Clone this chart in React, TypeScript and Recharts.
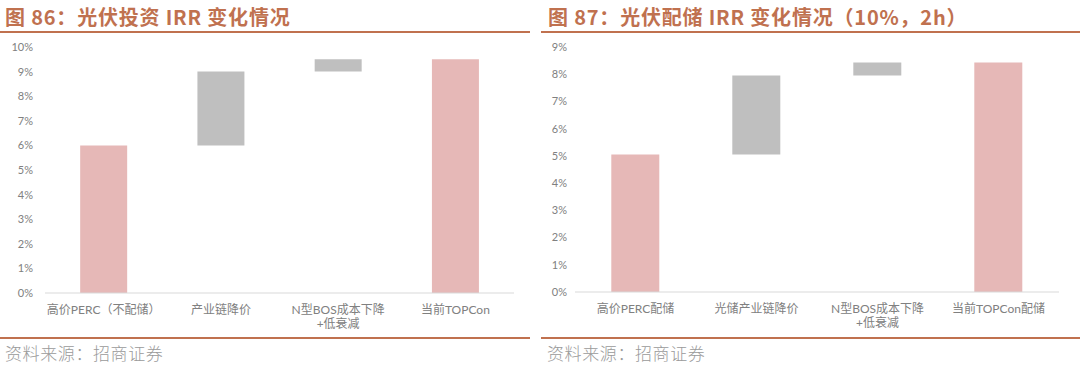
import React from "react";
import { BarChart, Bar, XAxis, YAxis, Cell } from "recharts";

const leftTitle = "图 86：光伏投资 IRR 变化情况";
const rightTitle = "图 87：光伏配储 IRR 变化情况（10%，2h）";
const sourceText = "资料来源：招商证券";

const leftCategories = ["高价PERC（不配储）", "产业链降价", "N型BOS成本下降\n+低衰减", "当前TOPCon"];
const leftStart = [0, 6.0, 9.0, 0];
const leftEnd = [6.0, 9.0, 9.5, 9.5];
const leftTicks = [0, 1, 2, 3, 4, 5, 6, 7, 8, 9, 10];

const rightCategories = ["高价PERC配储", "光储产业链降价", "N型BOS成本下降\n+低衰减", "当前TOPCon配储"];
const rightStart = [0, 5.05, 7.95, 0];
const rightEnd = [5.05, 7.95, 8.43, 8.43];
const rightTicks = [0, 1, 2, 3, 4, 5, 6, 7, 8, 9];

const barKinds = ["total", "step", "step", "total"];

const PINK = "#E6B8B7";
const GRAY = "#BFBFBF";
const ACCENT = "#C0714F";
const FONT = "Lato, 'Noto Sans CJK SC', sans-serif";

const buildData = (cats: string[], s: number[], e: number[]) =>
  cats.map((c, i) => ({ name: c, range: [s[i], e[i]], kind: barKinds[i] }));

const MultiTick = (props: any) => {
  const { x, y, payload } = props;
  const lines = String(payload.value).split("\n");
  return (
    <g transform={`translate(${x},${y})`}>
      {lines.map((l: string, i: number) => (
        <text key={i} x={0} y={i * 14} dy={13} textAnchor="middle" fill="#808080" fontSize={12} fontFamily={FONT}>
          {l}
        </text>
      ))}
    </g>
  );
};

const Panel = (props: {
  cats: string[];
  s: number[];
  e: number[];
  ticks: number[];
  max: number;
  yWidth: number;
  tickMargin: number;
  margin: any;
}) => {
  const data = buildData(props.cats, props.s, props.e);
  return (
    <BarChart width={540} height={368} data={data} margin={props.margin} barCategoryGap="30%">
      <XAxis
        dataKey="name"
        height={40}
        interval={0}
        tickLine={false}
        axisLine={{ stroke: "#D9D9D9" }}
        tick={<MultiTick />}
      />
      <YAxis
        width={props.yWidth}
        domain={[0, props.max]}
        ticks={props.ticks}
        interval={0}
        tickLine={false}
        axisLine={false}
        tickSize={0}
        tickMargin={props.tickMargin}
        tickFormatter={(v: number) => `${v}%`}
        tick={{ fill: "#808080", fontSize: 11, fontFamily: FONT }}
      />
      <Bar dataKey="range" isAnimationActive={false}>
        {data.map((d, i) => (
          <Cell key={i} fill={d.kind === "total" ? PINK : GRAY} />
        ))}
      </Bar>
    </BarChart>
  );
};

export default function App() {
  const titleStyle: React.CSSProperties = {
    position: "absolute",
    top: 4,
    fontSize: 20,
    fontWeight: 700,
    letterSpacing: 0.8,
    color: ACCENT,
    fontFamily: "'Noto Sans CJK SC', sans-serif",
    whiteSpace: "nowrap",
    lineHeight: "26px",
  };
  const srcStyle: React.CSSProperties = {
    position: "absolute",
    top: 341,
    fontSize: 17,
    letterSpacing: 0.6,
    color: "#9a9a9a",
    fontFamily: "'Noto Sans CJK SC', sans-serif",
    fontWeight: 300,
    whiteSpace: "nowrap",
    lineHeight: "24px",
  };
  const lineStyle = (left: number, width: number, top: number): React.CSSProperties => ({
    position: "absolute",
    left,
    width,
    top,
    height: 2,
    background: ACCENT,
  });
  return (
    <div style={{ position: "fixed", left: 0, top: 0, width: 1080, height: 368, background: "#fff", overflow: "hidden" }}>
      <div style={{ ...titleStyle, left: 5 }}>{leftTitle}</div>
      <div style={{ ...titleStyle, left: 548 }}>{rightTitle}</div>
      <div style={lineStyle(0, 530, 31)} />
      <div style={lineStyle(541, 539, 31)} />
      <div style={{ position: "absolute", left: 0, top: 0 }}>
        <Panel
          cats={leftCategories}
          s={leftStart}
          e={leftEnd}
          ticks={leftTicks}
          max={10}
          yWidth={45}
          tickMargin={12}
          margin={{ top: 47, right: 26, bottom: 35, left: 0 }}
        />
      </div>
      <div style={{ position: "absolute", left: 540, top: 0 }}>
        <Panel
          cats={rightCategories}
          s={rightStart}
          e={rightEnd}
          ticks={rightTicks}
          max={9}
          yWidth={35}
          tickMargin={8}
          margin={{ top: 47, right: 21, bottom: 36, left: 0 }}
        />
      </div>
      <div style={lineStyle(0, 530, 337)} />
      <div style={lineStyle(541, 539, 337)} />
      <div style={{ ...srcStyle, left: 5 }}>{sourceText}</div>
      <div style={{ ...srcStyle, left: 547 }}>{sourceText}</div>
    </div>
  );
}
